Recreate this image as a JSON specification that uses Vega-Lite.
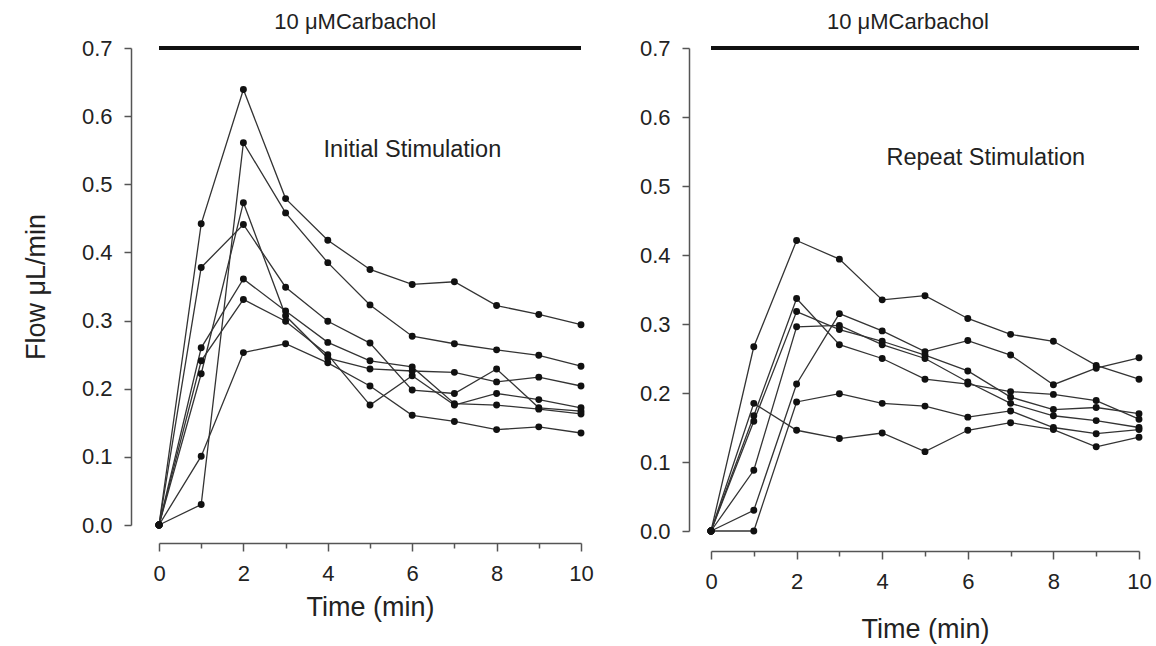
{
  "$schema": "https://vega.github.io/schema/vega-lite/v6.json",
  "padding": {"left": 22, "top": 11, "right": 5, "bottom": 5},
  "background": "white",
  "config": {
    "view": {"stroke": null},
    "axis": {"domainColor": "#555", "tickColor": "#555", "labelColor": "#222", "titleColor": "#222", "labelFont": "Liberation Sans", "titleFont": "Liberation Sans", "labelFontSize": 22, "titleFontSize": 27, "titleFontWeight": "normal", "grid": false, "domainWidth": 1.5, "tickWidth": 1.5, "labelFlush": false},
    "text": {"font": "Liberation Sans", "color": "#222"}
  },
  "datasets": {
    "left": [
      {"s":"A","t":0,"flow":0},{"s":"A","t":1,"flow":0.442},{"s":"A","t":2,"flow":0.639},{"s":"A","t":3,"flow":0.479},{"s":"A","t":4,"flow":0.418},{"s":"A","t":5,"flow":0.375},{"s":"A","t":6,"flow":0.353},{"s":"A","t":7,"flow":0.357},{"s":"A","t":8,"flow":0.322},{"s":"A","t":9,"flow":0.309},{"s":"A","t":10,"flow":0.294},
      {"s":"B","t":0,"flow":0},{"s":"B","t":1,"flow":0.378},{"s":"B","t":2,"flow":0.441},{"s":"B","t":3,"flow":0.349},{"s":"B","t":4,"flow":0.299},{"s":"B","t":5,"flow":0.267},{"s":"B","t":6,"flow":0.198},{"s":"B","t":7,"flow":0.193},{"s":"B","t":8,"flow":0.229},{"s":"B","t":9,"flow":0.172},{"s":"B","t":10,"flow":0.167},
      {"s":"C","t":0,"flow":0},{"s":"C","t":1,"flow":0.030},{"s":"C","t":2,"flow":0.561},{"s":"C","t":3,"flow":0.458},{"s":"C","t":4,"flow":0.385},{"s":"C","t":5,"flow":0.323},{"s":"C","t":6,"flow":0.277},{"s":"C","t":7,"flow":0.266},{"s":"C","t":8,"flow":0.257},{"s":"C","t":9,"flow":0.249},{"s":"C","t":10,"flow":0.233},
      {"s":"D","t":0,"flow":0},{"s":"D","t":1,"flow":0.101},{"s":"D","t":2,"flow":0.253},{"s":"D","t":3,"flow":0.266},{"s":"D","t":4,"flow":0.238},{"s":"D","t":5,"flow":0.204},{"s":"D","t":6,"flow":0.161},{"s":"D","t":7,"flow":0.152},{"s":"D","t":8,"flow":0.140},{"s":"D","t":9,"flow":0.144},{"s":"D","t":10,"flow":0.135},
      {"s":"E","t":0,"flow":0},{"s":"E","t":1,"flow":0.260},{"s":"E","t":2,"flow":0.361},{"s":"E","t":3,"flow":0.314},{"s":"E","t":4,"flow":0.268},{"s":"E","t":5,"flow":0.241},{"s":"E","t":6,"flow":0.232},{"s":"E","t":7,"flow":0.178},{"s":"E","t":8,"flow":0.176},{"s":"E","t":9,"flow":0.170},{"s":"E","t":10,"flow":0.163},
      {"s":"F","t":0,"flow":0},{"s":"F","t":1,"flow":0.241},{"s":"F","t":2,"flow":0.331},{"s":"F","t":3,"flow":0.299},{"s":"F","t":4,"flow":0.250},{"s":"F","t":5,"flow":0.176},{"s":"F","t":6,"flow":0.219},{"s":"F","t":7,"flow":0.176},{"s":"F","t":8,"flow":0.193},{"s":"F","t":9,"flow":0.184},{"s":"F","t":10,"flow":0.172},
      {"s":"G","t":0,"flow":0},{"s":"G","t":1,"flow":0.222},{"s":"G","t":2,"flow":0.473},{"s":"G","t":3,"flow":0.307},{"s":"G","t":4,"flow":0.245},{"s":"G","t":5,"flow":0.229},{"s":"G","t":6,"flow":0.226},{"s":"G","t":7,"flow":0.224},{"s":"G","t":8,"flow":0.210},{"s":"G","t":9,"flow":0.217},{"s":"G","t":10,"flow":0.204}
    ],
    "right": [
      {"s":"R1","t":0,"flow":0},{"s":"R1","t":1,"flow":0.267},{"s":"R1","t":2,"flow":0.421},{"s":"R1","t":3,"flow":0.394},{"s":"R1","t":4,"flow":0.335},{"s":"R1","t":5,"flow":0.341},{"s":"R1","t":6,"flow":0.308},{"s":"R1","t":7,"flow":0.285},{"s":"R1","t":8,"flow":0.275},{"s":"R1","t":9,"flow":0.240},{"s":"R1","t":10,"flow":0.220},
      {"s":"R2","t":0,"flow":0},{"s":"R2","t":1,"flow":0.030},{"s":"R2","t":2,"flow":0.213},{"s":"R2","t":3,"flow":0.315},{"s":"R2","t":4,"flow":0.290},{"s":"R2","t":5,"flow":0.260},{"s":"R2","t":6,"flow":0.276},{"s":"R2","t":7,"flow":0.255},{"s":"R2","t":8,"flow":0.212},{"s":"R2","t":9,"flow":0.236},{"s":"R2","t":10,"flow":0.251},
      {"s":"R3","t":0,"flow":0},{"s":"R3","t":1,"flow":0.000},{"s":"R3","t":2,"flow":0.187},{"s":"R3","t":3,"flow":0.199},{"s":"R3","t":4,"flow":0.185},{"s":"R3","t":5,"flow":0.181},{"s":"R3","t":6,"flow":0.165},{"s":"R3","t":7,"flow":0.174},{"s":"R3","t":8,"flow":0.150},{"s":"R3","t":9,"flow":0.141},{"s":"R3","t":10,"flow":0.147},
      {"s":"R4","t":0,"flow":0},{"s":"R4","t":1,"flow":0.185},{"s":"R4","t":2,"flow":0.146},{"s":"R4","t":3,"flow":0.134},{"s":"R4","t":4,"flow":0.142},{"s":"R4","t":5,"flow":0.115},{"s":"R4","t":6,"flow":0.146},{"s":"R4","t":7,"flow":0.157},{"s":"R4","t":8,"flow":0.147},{"s":"R4","t":9,"flow":0.122},{"s":"R4","t":10,"flow":0.136},
      {"s":"R5","t":0,"flow":0},{"s":"R5","t":1,"flow":0.167},{"s":"R5","t":2,"flow":0.337},{"s":"R5","t":3,"flow":0.270},{"s":"R5","t":4,"flow":0.250},{"s":"R5","t":5,"flow":0.220},{"s":"R5","t":6,"flow":0.213},{"s":"R5","t":7,"flow":0.202},{"s":"R5","t":8,"flow":0.198},{"s":"R5","t":9,"flow":0.189},{"s":"R5","t":10,"flow":0.162},
      {"s":"R6","t":0,"flow":0},{"s":"R6","t":1,"flow":0.159},{"s":"R6","t":2,"flow":0.318},{"s":"R6","t":3,"flow":0.292},{"s":"R6","t":4,"flow":0.275},{"s":"R6","t":5,"flow":0.255},{"s":"R6","t":6,"flow":0.232},{"s":"R6","t":7,"flow":0.194},{"s":"R6","t":8,"flow":0.176},{"s":"R6","t":9,"flow":0.179},{"s":"R6","t":10,"flow":0.170},
      {"s":"R7","t":0,"flow":0},{"s":"R7","t":1,"flow":0.088},{"s":"R7","t":2,"flow":0.296},{"s":"R7","t":3,"flow":0.298},{"s":"R7","t":4,"flow":0.270},{"s":"R7","t":5,"flow":0.250},{"s":"R7","t":6,"flow":0.216},{"s":"R7","t":7,"flow":0.185},{"s":"R7","t":8,"flow":0.167},{"s":"R7","t":9,"flow":0.160},{"s":"R7","t":10,"flow":0.150}
    ]
  },
  "hconcat": [
    {
      "width": 422,
      "height": 477,
      "encoding": {
        "x": {"field": "t", "type": "quantitative", "scale": {"domain": [0, 10], "nice": false, "zero": false},
              "axis": {"values": [0,1,2,3,4,5,6,7,8,9,10], "labelExpr": "datum.value % 2 === 0 ? datum.label : ''", "offset": 18, "title": "Time (min)", "titlePadding": 10, "labelPadding": 12,
                       "tickSize": {"condition": {"test": "datum.value % 2 === 0", "value": 8}, "value": 5}}},
        "y": {"field": "flow", "type": "quantitative", "scale": {"domain": [0, 0.7], "nice": false},
              "axis": {"values": [0,0.1,0.2,0.3,0.4,0.5,0.6,0.7], "format": ".1f", "offset": 28, "tickSize": 7, "labelPadding": 12, "title": "Flow μL/min", "titlePadding": 31}}
      },
      "layer": [
        {"data": {"values": [{"t": 0, "t2": 10, "flow": 0.7}]}, "mark": {"type": "rule", "strokeWidth": 4, "color": "#111"}, "encoding": {"x2": {"field": "t2"}}},
        {"data": {"values": [{"t": 4.65, "flow": 0.7, "label": "10 μMCarbachol"}]}, "mark": {"type": "text", "align": "center", "dy": -26, "fontSize": 22}, "encoding": {"text": {"field": "label"}}},
        {"data": {"values": [{"t": 3.9, "flow": 0.55, "label": "Initial Stimulation"}]}, "mark": {"type": "text", "align": "left", "fontSize": 23.5}, "encoding": {"text": {"field": "label"}}},
        {"data": {"name": "left"}, "mark": {"type": "line", "color": "#333", "strokeWidth": 1.3}, "encoding": {"detail": {"field": "s"}}},
        {"data": {"name": "left"}, "mark": {"type": "point", "filled": true, "color": "#111", "size": 48, "opacity": 1}, "encoding": {"detail": {"field": "s"}}}
      ]
    },
    {
      "width": 428,
      "height": 483,
      "encoding": {
        "x": {"field": "t", "type": "quantitative", "scale": {"domain": [0, 10], "nice": false, "zero": false},
              "axis": {"values": [0,1,2,3,4,5,6,7,8,9,10], "labelExpr": "datum.value % 2 === 0 ? datum.label : ''", "offset": 20, "title": "Time (min)", "titlePadding": 24, "labelPadding": 12,
                       "tickSize": {"condition": {"test": "datum.value % 2 === 0", "value": 8}, "value": 5}}},
        "y": {"field": "flow", "type": "quantitative", "scale": {"domain": [0, 0.7], "nice": false},
              "axis": {"values": [0,0.1,0.2,0.3,0.4,0.5,0.6,0.7], "format": ".1f", "offset": 22, "tickSize": 7, "labelPadding": 12, "title": null}}
      },
      "layer": [
        {"data": {"values": [{"t": 0, "t2": 10, "flow": 0.7}]}, "mark": {"type": "rule", "strokeWidth": 4, "color": "#111"}, "encoding": {"x2": {"field": "t2"}}},
        {"data": {"values": [{"t": 4.6, "flow": 0.7, "label": "10 μMCarbachol"}]}, "mark": {"type": "text", "align": "center", "dy": -26, "fontSize": 22}, "encoding": {"text": {"field": "label"}}},
        {"data": {"values": [{"t": 4.1, "flow": 0.54, "label": "Repeat Stimulation"}]}, "mark": {"type": "text", "align": "left", "fontSize": 23.5}, "encoding": {"text": {"field": "label"}}},
        {"data": {"name": "right"}, "mark": {"type": "line", "color": "#333", "strokeWidth": 1.3}, "encoding": {"detail": {"field": "s"}}},
        {"data": {"name": "right"}, "mark": {"type": "point", "filled": true, "color": "#111", "size": 48, "opacity": 1}, "encoding": {"detail": {"field": "s"}}}
      ]
    }
  ],
  "spacing": 130,
  "bounds": "flush"
}
